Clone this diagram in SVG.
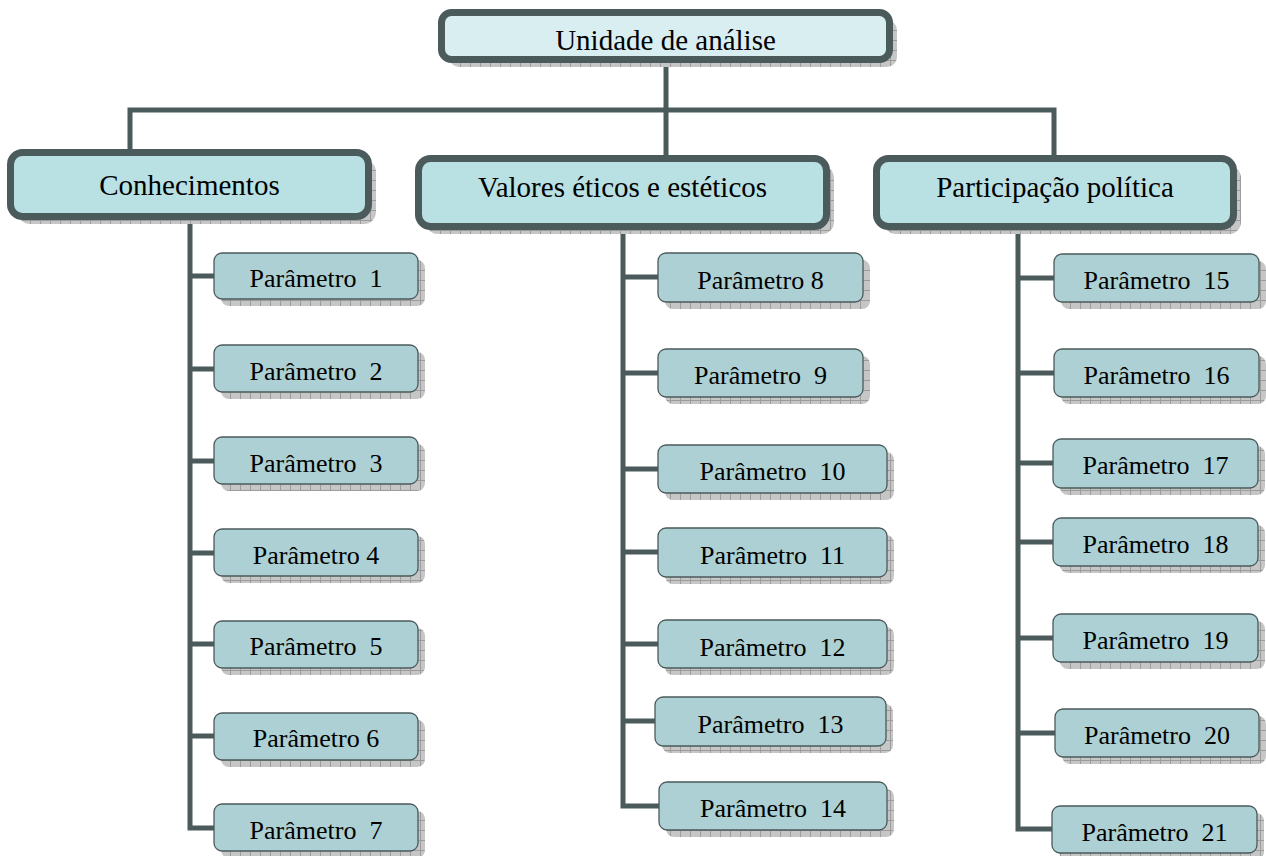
<svg xmlns="http://www.w3.org/2000/svg" width="1266" height="856" viewBox="0 0 1266 856">
<style>
.t{font-family:"Liberation Serif","Times New Roman",serif;fill:#000;text-anchor:middle;white-space:pre}
.cat{font-size:29px}
.par{font-size:26px}
.topbox{fill:#d9eef0;stroke:#4b5a5b;stroke-width:7}
.catbox{fill:#b9e0e3;stroke:#4b5a5b;stroke-width:7}
.parbox{fill:#acd0d3;stroke:#4b5a5b;stroke-width:1.3}
.sh{fill:url(#grid)}
.con{fill:none;stroke:#4b5a5b;stroke-width:5}
</style>
<defs>
<pattern id="grid" width="10" height="10" patternUnits="userSpaceOnUse">
<rect width="10" height="10" fill="#c6c6c6"/>
<path d="M0 0.5H10M0.5 0V10" stroke="#9c9c9c" stroke-width="1"/>
</pattern>
</defs>
<g id="connectors">
<path class="con" d="M130 152V110H1054V158"/>
<path class="con" d="M666 63V158"/>
<path class="con" d="M190 220V828H214"/>
<path class="con" d="M190 276H214M190 369H214M190 461H214M190 553H214M190 644H214M190 736H214"/>
<path class="con" d="M623 230V806H659"/>
<path class="con" d="M623 277H658M623 373H658M623 469H658M623 552H658M623 644H658M623 721H655"/>
<path class="con" d="M1018 230V829H1052"/>
<path class="con" d="M1018 278H1054M1018 373H1054M1018 463H1053M1018 542H1053M1018 638H1053M1018 733H1055"/>
</g>
<g id="n-top">
<rect class="sh" x="449" y="20" width="448" height="47" rx="10"/>
<rect class="topbox" x="441.5" y="12.5" width="448" height="47" rx="10"/>
<text class="t cat" x="665.5" y="50">Unidade de análise</text>
</g>
<g id="n-conhecimentos">
<rect class="sh" x="18" y="160" width="358" height="64" rx="12"/>
<rect class="catbox" x="10.5" y="152.5" width="358" height="64" rx="12"/>
<text class="t cat" x="189.5" y="195">Conhecimentos</text>
</g>
<g id="n-valores">
<rect class="sh" x="426" y="166" width="408" height="68" rx="12"/>
<rect class="catbox" x="418.5" y="158.5" width="408" height="68" rx="12"/>
<text class="t cat" x="622.5" y="197">Valores éticos e estéticos</text>
</g>
<g id="n-participacao">
<rect class="sh" x="884" y="166" width="357" height="68" rx="12"/>
<rect class="catbox" x="876.5" y="158.5" width="357" height="68" rx="12"/>
<text class="t cat" x="1055" y="197">Participação política</text>
</g>
<g id="p1"><rect class="sh" x="221" y="260" width="204" height="46" rx="8"/><rect class="parbox" x="214" y="253" width="204" height="46" rx="8"/><text class="t par" x="316" y="287">Parâmetro  1</text></g>
<g id="p2"><rect class="sh" x="221" y="352" width="204" height="47" rx="8"/><rect class="parbox" x="214" y="345" width="204" height="47" rx="8"/><text class="t par" x="316" y="380">Parâmetro  2</text></g>
<g id="p3"><rect class="sh" x="221" y="444" width="204" height="47" rx="8"/><rect class="parbox" x="214" y="437" width="204" height="47" rx="8"/><text class="t par" x="316" y="472">Parâmetro  3</text></g>
<g id="p4"><rect class="sh" x="221" y="536" width="204" height="47" rx="8"/><rect class="parbox" x="214" y="529" width="204" height="47" rx="8"/><text class="t par" x="316" y="564">Parâmetro 4</text></g>
<g id="p5"><rect class="sh" x="221" y="628" width="204" height="47" rx="8"/><rect class="parbox" x="214" y="621" width="204" height="47" rx="8"/><text class="t par" x="316" y="655">Parâmetro  5</text></g>
<g id="p6"><rect class="sh" x="221" y="720" width="204" height="47" rx="8"/><rect class="parbox" x="214" y="713" width="204" height="47" rx="8"/><text class="t par" x="316" y="747">Parâmetro 6</text></g>
<g id="p7"><rect class="sh" x="221" y="811" width="204" height="47" rx="8"/><rect class="parbox" x="214" y="804" width="204" height="47" rx="8"/><text class="t par" x="316" y="839">Parâmetro  7</text></g>
<g id="p8"><rect class="sh" x="665" y="260" width="205" height="49" rx="8"/><rect class="parbox" x="658" y="253" width="205" height="49" rx="8"/><text class="t par" x="760.5" y="289">Parâmetro 8</text></g>
<g id="p9"><rect class="sh" x="665" y="356" width="205" height="48" rx="8"/><rect class="parbox" x="658" y="349" width="205" height="48" rx="8"/><text class="t par" x="760.5" y="384">Parâmetro  9</text></g>
<g id="p10"><rect class="sh" x="665" y="452" width="229" height="48" rx="8"/><rect class="parbox" x="658" y="445" width="229" height="48" rx="8"/><text class="t par" x="772.5" y="480">Parâmetro  10</text></g>
<g id="p11"><rect class="sh" x="665" y="535" width="229" height="49" rx="8"/><rect class="parbox" x="658" y="528" width="229" height="49" rx="8"/><text class="t par" x="772.5" y="564">Parâmetro  11</text></g>
<g id="p12"><rect class="sh" x="665" y="627" width="229" height="48" rx="8"/><rect class="parbox" x="658" y="620" width="229" height="48" rx="8"/><text class="t par" x="772.5" y="656">Parâmetro  12</text></g>
<g id="p13"><rect class="sh" x="662" y="704" width="231" height="49" rx="8"/><rect class="parbox" x="655" y="697" width="231" height="49" rx="8"/><text class="t par" x="770.5" y="733">Parâmetro  13</text></g>
<g id="p14"><rect class="sh" x="666" y="789" width="228" height="48" rx="8"/><rect class="parbox" x="659" y="782" width="228" height="48" rx="8"/><text class="t par" x="773" y="817">Parâmetro  14</text></g>
<g id="p15"><rect class="sh" x="1061" y="261" width="205" height="48" rx="8"/><rect class="parbox" x="1054" y="254" width="205" height="48" rx="8"/><text class="t par" x="1156.5" y="289">Parâmetro  15</text></g>
<g id="p16"><rect class="sh" x="1061" y="356" width="205" height="48" rx="8"/><rect class="parbox" x="1054" y="349" width="205" height="48" rx="8"/><text class="t par" x="1156.5" y="384">Parâmetro  16</text></g>
<g id="p17"><rect class="sh" x="1060" y="446" width="205" height="49" rx="8"/><rect class="parbox" x="1053" y="439" width="205" height="49" rx="8"/><text class="t par" x="1155.5" y="474">Parâmetro  17</text></g>
<g id="p18"><rect class="sh" x="1060" y="525" width="205" height="48" rx="8"/><rect class="parbox" x="1053" y="518" width="205" height="48" rx="8"/><text class="t par" x="1155.5" y="553">Parâmetro  18</text></g>
<g id="p19"><rect class="sh" x="1060" y="621" width="205" height="48" rx="8"/><rect class="parbox" x="1053" y="614" width="205" height="48" rx="8"/><text class="t par" x="1155.5" y="649">Parâmetro  19</text></g>
<g id="p20"><rect class="sh" x="1062" y="716" width="204" height="48" rx="8"/><rect class="parbox" x="1055" y="709" width="204" height="48" rx="8"/><text class="t par" x="1157" y="744">Parâmetro  20</text></g>
<g id="p21"><rect class="sh" x="1059" y="813" width="205" height="47" rx="8"/><rect class="parbox" x="1052" y="806" width="205" height="47" rx="8"/><text class="t par" x="1154.5" y="841">Parâmetro  21</text></g>
</svg>
